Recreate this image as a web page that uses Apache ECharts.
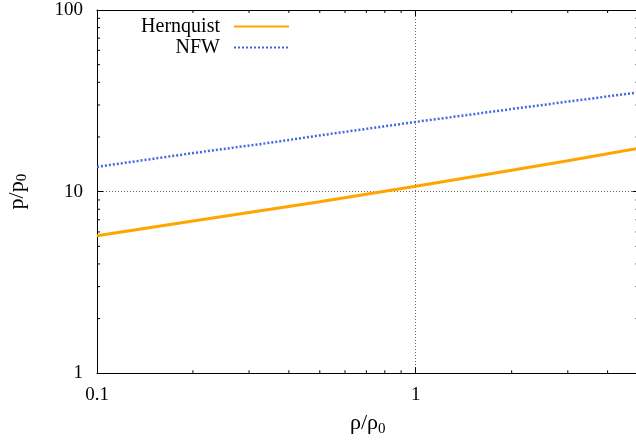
<!DOCTYPE html>
<html>
<head>
<meta charset="utf-8">
<script src="https://cdn.jsdelivr.net/npm/echarts@6/dist/echarts.min.js"></script>
<style>html,body{margin:0;padding:0;background:#fff;}#c{width:636px;height:442px;}</style>
</head>
<body>
<div id="c"></div>
<script>
// Data
var densities = [0.1, 0.2, 0.35, 0.5, 1, 2, 3, 5];
var hernquist = [5.72, 6.89, 8.0, 8.81, 10.7, 13.1, 14.8, 17.3];
var nfw = [13.7, 16.3, 18.6, 20.4, 24.2, 28.5, 31.3, 35.2];
var xTickLabels = ['0.1', '1'];
var yTickLabels = ['1', '10', '100'];
var xMinorTicks = [0.2, 0.3, 0.4, 0.5, 0.6, 0.7, 0.8, 0.9, 2, 3, 4];
var yMinorTicks = [2, 3, 4, 5, 6, 7, 8, 9, 20, 30, 40, 50, 60, 70, 80, 90];

var FONT = 'Liberation Serif';
function pairs(xs, ys) { return xs.map(function (x, i) { return [x, ys[i]]; }); }

var chart = echarts.init(document.getElementById('c'), null, {renderer: 'canvas'});

function minorRender(isX) {
  return function (params, api) {
    var v = api.value(0);
    var cs = params.coordSys;
    var L = 3;
    var style = {stroke: '#000', lineWidth: 1};
    if (isX) {
      var px = api.coord([v, 1])[0];
      return {type: 'group', children: [
        {type: 'line', shape: {x1: px, y1: cs.y + cs.height, x2: px, y2: cs.y + cs.height - L}, style: style},
        {type: 'line', shape: {x1: px, y1: cs.y, x2: px, y2: cs.y + L}, style: style}
      ]};
    } else {
      var py = api.coord([1, v])[1];
      return {type: 'group', children: [
        {type: 'line', shape: {x1: cs.x, y1: py, x2: cs.x + L, y2: py}, style: style},
        {type: 'line', shape: {x1: cs.x + cs.width, y1: py, x2: cs.x + cs.width - L, y2: py}, style: style}
      ]};
    }
  };
}

var axisLineStyle = {lineStyle: {color: '#000', width: 1}};
var gridLine = {show: true, lineStyle: {color: '#666', width: 1, type: [1, 2]}};
var legendText = {fontFamily: FONT, fontSize: 20, color: '#000', padding: [0, 9, 0, 0]};

chart.setOption({
  animation: false,
  backgroundColor: '#fff',
  grid: {left: 97, right: -2.5, top: 10, bottom: 68.7, containLabel: false, outerBoundsMode: 'none'},
  legend: [
    {data: ['Hernquist'], orient: 'vertical', align: 'right', right: 341, top: 11.5,
     itemWidth: 55, itemHeight: 14, itemStyle: {opacity: 0}, textStyle: legendText},
    {data: ['NFW'], orient: 'vertical', align: 'right', right: 341, top: 32.5,
     itemWidth: 55, itemHeight: 14, itemStyle: {opacity: 0}, textStyle: legendText}
  ],
  xAxis: [
    {type: 'log', logBase: 10, min: 0.1, max: 5, position: 'bottom',
     axisLine: axisLineStyle, axisTick: {inside: true, length: 6, lineStyle: {color: '#000'}},
     axisLabel: {fontFamily: FONT, fontSize: 19, color: '#000', margin: 12, showMaxLabel: false,
       formatter: function (v) { var s = (Math.round(v * 1000) / 1000).toString(); return xTickLabels.indexOf(s) >= 0 ? s : ''; }},
     splitLine: gridLine,
     name: '{a|ρ/ρ}{b|0}', nameLocation: 'middle', nameGap: 37,
     nameTextStyle: {fontFamily: FONT, color: '#000', rich: {
       a: {fontFamily: FONT, fontSize: 22, lineHeight: 26, color: '#000'},
       b: {fontFamily: FONT, fontSize: 15, lineHeight: 15, verticalAlign: 'bottom', color: '#000'}}}},
    {type: 'log', logBase: 10, min: 0.1, max: 5, position: 'top',
     axisLine: axisLineStyle, axisTick: {inside: true, length: 6, lineStyle: {color: '#000'}},
     axisLabel: {show: false}, splitLine: {show: false}}
  ],
  yAxis: [
    {type: 'log', logBase: 10, min: 1, max: 100, position: 'left',
     axisLine: axisLineStyle, axisTick: {inside: true, length: 6, lineStyle: {color: '#000'}},
     axisLabel: {fontFamily: FONT, fontSize: 19, color: '#000', margin: 14,
       formatter: function (v) { var s = Math.round(v).toString(); return yTickLabels.indexOf(s) >= 0 ? s : ''; }},
     splitLine: gridLine,
     name: '{a|p/p}{b|0}', nameLocation: 'middle', nameGap: 67, nameRotate: 90,
     nameTextStyle: {fontFamily: FONT, color: '#000', rich: {
       a: {fontFamily: FONT, fontSize: 22, lineHeight: 26, color: '#000'},
       b: {fontFamily: FONT, fontSize: 15, lineHeight: 15, verticalAlign: 'bottom', color: '#000'}}}},
    {type: 'log', logBase: 10, min: 1, max: 100, position: 'right',
     axisLine: axisLineStyle, axisTick: {inside: true, length: 6, lineStyle: {color: '#000'}},
     axisLabel: {show: false}, splitLine: {show: false}}
  ],
  series: [
    {name: 'Hernquist', type: 'line', data: pairs(densities, hernquist), symbol: 'none', showSymbol: false,
     itemStyle: {color: '#FFA500'}, lineStyle: {color: '#FFA500', width: 3}, z: 5},
    {name: 'NFW', type: 'line', data: pairs(densities, nfw), symbol: 'none', showSymbol: false,
     itemStyle: {color: '#4169E1'}, lineStyle: {color: '#4169E1', width: 2.5, type: [2, 2]}, z: 5},
    {name: 'xminor', type: 'custom', data: xMinorTicks.map(function (v) { return [v]; }),
     renderItem: minorRender(true), silent: true, z: 4, clip: false, encode: {x: 0}},
    {name: 'yminor', type: 'custom', data: yMinorTicks.map(function (v) { return [v]; }),
     renderItem: minorRender(false), silent: true, z: 4, clip: false, encode: {y: 0}}
  ]
});
</script>
</body>
</html>
